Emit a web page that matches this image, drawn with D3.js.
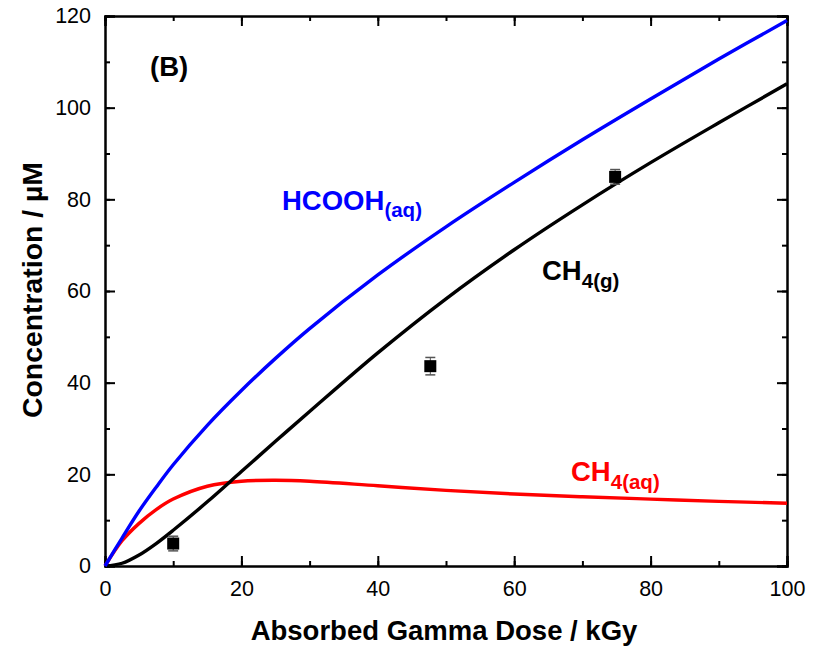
<!DOCTYPE html>
<meta charset="utf-8">
<style>
  body { margin: 0; background: #fff; }
  svg { font-family: "Liberation Sans", Arial, sans-serif; }
</style>
<svg id="chart" width="817" height="646"></svg>
<script src="https://d3js.org/d3.v7.min.js"></script>
<script>
// dose (kGy) and concentrations (µM)
var dose = [0, 2.5, 5, 7.5, 10, 15, 20, 25, 30, 40, 50, 60, 70, 80, 90, 100];
var hcooh = [0, 6.1, 12.0, 17.2, 22.1, 30.7, 38.3, 45.3, 51.8, 63.5, 74.0, 83.7, 93.0, 101.9, 110.6, 119.0];
var ch4g = [0, 0.6, 2.4, 4.9, 7.8, 14.0, 20.6, 27.2, 33.7, 46.5, 58.3, 69.0, 78.8, 88.0, 96.7, 105.2];
var ch4aq = [0, 5.5, 9.3, 12.3, 14.6, 17.4, 18.5, 18.7, 18.5, 17.5, 16.5, 15.7, 15.1, 14.6, 14.1, 13.7];

// measured CH4(g)
var expDose = [10, 47.7, 74.8];
var expConc = [4.9, 43.6, 84.9];
var expErr = [1.6, 1.9, 1.6];

var xTicks = [0, 20, 40, 60, 80, 100];
var yTicks = [0, 20, 40, 60, 80, 100, 120];

var svg = d3.select("#chart");
var mLeft = 105, mRight = 787, mTop = 16, mBottom = 566;

var x = d3.scaleLinear().domain([0, 100]).range([mLeft, mRight]);
var y = d3.scaleLinear().domain([0, 120]).range([mBottom, mTop]);

// axes, ticks inward on all four sides
var minorX = d3.range(0, 101, 10), minorY = d3.range(0, 121, 10);
svg.append("g").attr("transform", "translate(0," + mBottom + ")")
  .call(d3.axisBottom(x).tickValues(minorX).tickSize(-5).tickFormat(""));
svg.append("g").attr("transform", "translate(0," + mBottom + ")")
  .call(d3.axisBottom(x).tickValues(xTicks).tickSize(-10).tickPadding(15).tickFormat(d3.format("d")));
svg.append("g").attr("transform", "translate(0," + mTop + ")")
  .call(d3.axisTop(x).tickValues(minorX).tickSize(-5).tickFormat(""));
svg.append("g").attr("transform", "translate(0," + mTop + ")")
  .call(d3.axisTop(x).tickValues(xTicks).tickSize(-10).tickFormat(""));
svg.append("g").attr("transform", "translate(" + mLeft + ",0)")
  .call(d3.axisLeft(y).tickValues(minorY).tickSize(-5).tickFormat(""));
svg.append("g").attr("transform", "translate(" + mLeft + ",0)")
  .call(d3.axisLeft(y).tickValues(yTicks).tickSize(-10).tickPadding(14).tickFormat(d3.format("d")));
svg.append("g").attr("transform", "translate(" + mRight + ",0)")
  .call(d3.axisRight(y).tickValues(minorY).tickSize(-5).tickFormat(""));
svg.append("g").attr("transform", "translate(" + mRight + ",0)")
  .call(d3.axisRight(y).tickValues(yTicks).tickSize(-10).tickFormat(""));

svg.selectAll(".domain").attr("stroke", "#000").attr("stroke-width", 2);
svg.selectAll(".tick line").attr("stroke", "#000").attr("stroke-width", 2);
svg.selectAll(".tick text").attr("font-size", 21.5).attr("fill", "#000")
  .attr("font-family", "Liberation Sans, Arial, sans-serif");

// curves
var line = d3.line().curve(d3.curveCatmullRom);
function drawCurve(vals, color) {
  svg.append("path")
    .attr("d", line(dose.map(function(d, i) { return [x(d), y(vals[i])]; })))
    .attr("fill", "none").attr("stroke", color).attr("stroke-width", 3.4);
}
drawCurve(ch4aq, "#ff0000");
drawCurve(ch4g, "#000000");
drawCurve(hcooh, "#0000ff");

// data points with error bars
expDose.forEach(function(d, i) {
  var cx = x(d), cy = y(expConc[i]);
  var y1 = y(expConc[i] + expErr[i]), y2 = y(expConc[i] - expErr[i]);
  svg.append("line").attr("x1", cx).attr("x2", cx).attr("y1", y1).attr("y2", y2)
    .attr("stroke", "#555").attr("stroke-width", 1);
  [y1, y2].forEach(function(yy) {
    svg.append("line").attr("x1", cx - 5).attr("x2", cx + 5).attr("y1", yy).attr("y2", yy)
      .attr("stroke", "#555").attr("stroke-width", 1.5);
  });
  svg.append("rect").attr("x", cx - 6).attr("y", cy - 6).attr("width", 12).attr("height", 12)
    .attr("fill", "#000");
});

// labels
function label(xp, yp, main, sub, color, subDy) {
  var t = svg.append("text").attr("x", xp).attr("y", yp).attr("fill", color)
    .attr("font-weight", "bold").attr("font-size", 27.5);
  t.append("tspan").text(main);
  if (sub) t.append("tspan").attr("font-size", 20.5).attr("dy", subDy).text(sub);
}
label(150, 76, "(B)", null, "#000");
label(282, 210, "HCOOH", "(aq)", "#0000ff", 7);
label(542, 280, "CH", "4(g)", "#000", 8);
label(571, 481, "CH", "4(aq)", "#ff0000", 8);

svg.append("text").attr("x", 444).attr("y", 640)
  .attr("text-anchor", "middle").attr("font-weight", "bold").attr("font-size", 27.5)
  .text("Absorbed Gamma Dose / kGy");
svg.append("text").attr("transform", "translate(42,290) rotate(-90)")
  .attr("text-anchor", "middle").attr("font-weight", "bold").attr("font-size", 27)
  .attr("textLength", 256).attr("lengthAdjust", "spacingAndGlyphs")
  .text("Concentration / \u00b5M");
</script>
